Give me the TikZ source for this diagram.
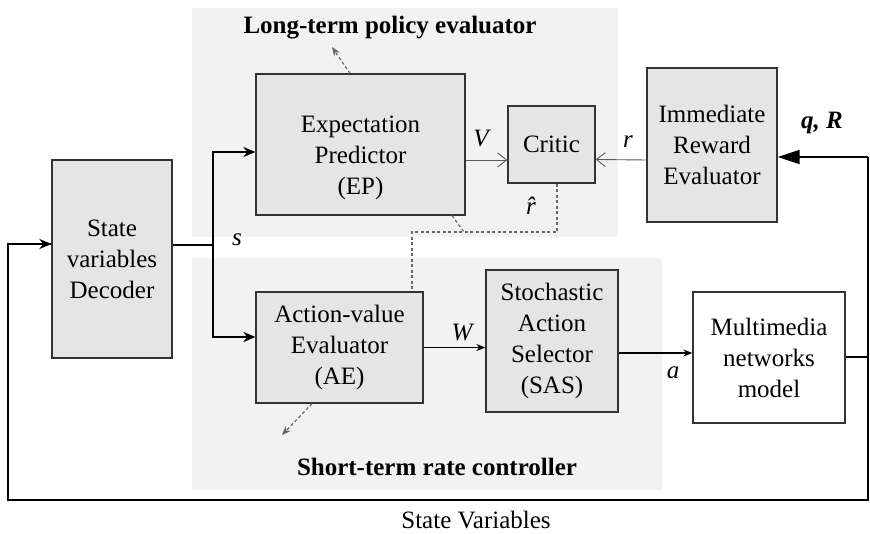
\documentclass[tikz,border=0pt]{standalone}
\usepackage{fontspec}
\setmainfont{LiberationSerif}[Extension=.ttf,UprightFont=*-Regular,BoldFont=*-Bold,ItalicFont=*-Italic,BoldItalicFont=*-BoldItalic]
\usetikzlibrary{arrows.meta}

\tikzset{
  region/.style={fill=gray!10,draw=none},
  blk/.style={draw=black!80,line width=1.3pt,fill=gray!20,align=center,inner sep=0pt,
    font=\fontsize{25}{31}\selectfont},
  thinarr/.style={draw=black!65,line width=0.9pt,-{Straight Barb[length=9pt,width=14pt]}},
  sig/.style={line width=2pt,-{Stealth[length=12pt,width=10pt]}},
  dashline/.style={draw=black!60,line width=1.2pt,dash pattern=on 3pt off 2.5pt},
  var/.style={font=\fontsize{25}{30}\selectfont\itshape},
  ttl/.style={font=\fontsize{25}{30}\selectfont\bfseries}
}

\begin{document}
\begin{tikzpicture}[x=1pt,y=-1pt]
\useasboundingbox (0,0) rectangle (870,534);

% shaded regions
\fill[region] (192,8) rectangle (618,237);
\fill[region] (192,258) rectangle (662,490);

% blocks
\node[blk,minimum width=120pt,minimum height=198pt] (dec) at (112,259) {State\\variables\\Decoder};
\node[blk,minimum width=209pt,minimum height=141pt] (ep) at (360.5,144.5) {};
\node[align=center,font=\fontsize{25}{31}\selectfont] (eptext) at (360.5,158) {Expectation\\Predictor\\(EP)};
\node[blk,minimum width=87pt,minimum height=77pt] (critic) at (551.5,144.5) {Critic};
\node[blk,minimum width=130pt,minimum height=154pt] (ire) at (712,145) {Immediate\\Reward\\Evaluator};
\node[blk,minimum width=167pt,minimum height=111pt] (ae) at (339.5,347.5) {Action-value\\Evaluator\\(AE)};
\node[blk,minimum width=132pt,minimum height=142pt] (sas) at (552,341) {Stochastic\\Action\\Selector\\(SAS)};
\node[blk,fill=white,minimum width=152pt,minimum height=131pt] (mnm) at (769,357.5) {Multimedia\\networks\\model};

% region titles
\node[ttl] (lttl) at (390,28) {Long-term policy evaluator};
\node[ttl] (sttl) at (437,467) {Short-term rate controller};
\node[font=\fontsize{25}{30}\selectfont] (svar) at (476,520) {State Variables};

\coordinate (sj) at (213,245);
\coordinate (rt) at (868,157);
\coordinate (rb) at (868,500);
\coordinate (lb) at (8,500);
\coordinate (dj) at (412,232);
\coordinate (dk) at (464,232);
\coordinate (lt) at (332,47);
\coordinate (st) at (282,435);

% state signal
\draw[line width=2pt] ([yshift=14pt]dec.east) -- (sj);
\draw[sig] (sj) |- ([yshift=-7.5pt]ep.west);
\draw[sig] (sj) |- ([yshift=10.5pt]ae.west);
\node[var] (s) at (237,240) {s};

% critic inputs
\draw[thinarr] ([yshift=-15.5pt]ep.east) -- ([yshift=-15.5pt]critic.west);
\node[var] (V) at (481,139) {V};
\draw[thinarr] ([yshift=-15pt]ire.west) -- ([yshift=-15pt]critic.east);
\node[var] (r) at (628,142) {r};
\draw[line width=2pt,-{Triangle[length=22pt,width=14pt]}] (rt) -- ([yshift=-12pt]ire.east);
\node[font=\fontsize{25}{30}\selectfont\bfseries\itshape] (qR) at (822,123) {q, R};

% critic feedback (dashed)
\draw[dashline] ([xshift=5.5pt]critic.south) |- (dj) -- (dj |- ae.north);
\draw[dashline] ([xshift=91.5pt]ep.south) -- (dk);
\node[var] (rhat) at (531,206) {\^{r}};
\draw[dashline,-{Stealth[length=9pt,width=7pt]}] ([xshift=-10.5pt]ep.north) -- (lt);
\draw[dashline,-{Stealth[length=9pt,width=7pt]}] ([xshift=-27.5pt]ae.south) -- (st);

% action path
\draw[line width=1.3pt,-{Stealth[length=9pt,width=7pt]}] (ae.east) -- (ae.east -| sas.west);
\node[var] (W) at (462,333) {W};
\draw[line width=1.3pt,-{Stealth[length=9pt,width=7pt]}] ([yshift=-12pt]sas.east) -- ([yshift=-12pt]sas.east -| mnm.west);
\node[var] (a) at (673,373) {a};

% state variables feedback
\draw[line width=2pt] (mnm.east) -- (mnm.east -| rt);
\draw[line width=2pt] (rt) -- (rb) -- (lb) |- ([yshift=15pt]dec.west);
\draw[sig] ([xshift=-30pt,yshift=15pt]dec.west) -- ([yshift=15pt]dec.west);

\end{tikzpicture}
\end{document}
